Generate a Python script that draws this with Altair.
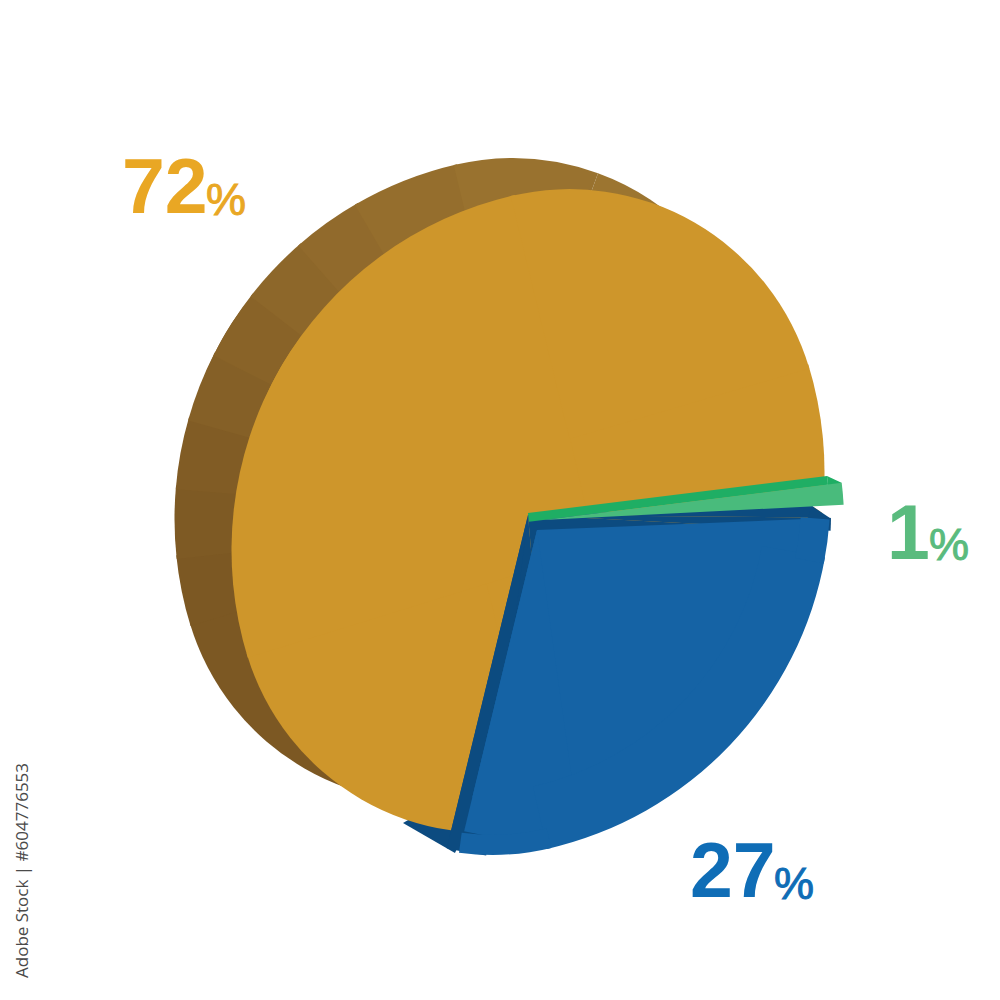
import altair as alt
import pandas as pd

# ---- values -----------------------------------------------------------
labels = ["72", "27", "1"]
label_colors = ["#E9A724", "#0F6DB6", "#5ABB7E"]
# oval outline of the tilted disc, four tangent circular pieces
junctions = [73.2, 166.8, 253.2, 346.8]
back_left_steps = [253.2, 264, 275, 286, 297, 308, 319, 330, 346.8]
back_left_colors = ["#7C5823", "#7E5A24", "#815C25", "#856027", "#896328", "#8D672A", "#916A2C", "#956E2D"]

OFF = 8
R_BIG, R_SMALL, R_MIN = 364, 250, 286
CR = (-67.5, -39.0)
CL = (67.5, 39.0)
CT = (41.5, -71.9)
CB = (-41.5, 71.9)
theta_scale = alt.Scale(domain=[0, 360], range=[0, 6.283185307])


def arc(a, b, cx, cy, r, color, inner=0):
    kw = {"radius2": inner} if inner else {}
    return alt.Chart(pd.DataFrame({"a": [a], "b": [b]})).mark_arc(color=color, radius=r, **kw).encode(
        theta=alt.Theta("a:Q", scale=theta_scale),
        theta2=alt.Theta2("b:Q"),
        x=alt.value(cx - OFF),
        y=alt.value(cy - OFF),
    )


def oval(ox, oy, color):
    j = junctions
    e = 0.4
    return [
        arc(0, 360, ox, oy, R_MIN, color),
        arc(j[0] - e, j[1] + e, ox + CR[0], oy + CR[1], R_BIG, color),
        arc(j[1] - e, j[2] + e, ox + CB[0], oy + CB[1], R_SMALL, color),
        arc(j[2] - e, j[3] + e, ox + CL[0], oy + CL[1], R_BIG, color),
        arc(j[3] - e - 360, j[0] + e, ox + CT[0], oy + CT[1], R_SMALL, color),
    ]


layers = []

# rear rim with its stepped shading
BX, BY = 471, 480
layers.append(arc(0, 360, BX, BY, R_MIN, "#7C5823"))
layers.append(arc(junctions[1], junctions[2], BX + CB[0], BY + CB[1], R_SMALL, "#7C5823"))
for i, c in enumerate(back_left_colors):
    layers.append(arc(back_left_steps[i] - 0.3, back_left_steps[i + 1] + 0.3, BX + CL[0], BY + CL[1], R_BIG, c))
layers.append(arc(-13.6, 20, BX + CT[0], BY + CT[1], R_SMALL, "#99722F"))
layers.append(arc(20, 73.6, BX + CT[0], BY + CT[1], R_SMALL, "#9C7530"))
layers.append(arc(73, 110, BX + CR[0], BY + CR[1], R_BIG, "#9C7530"))

# rear corner of the blue slice, showing below the big slice
DARK = "#0C4B80"
layers.append(arc(60, 120, 403, 823, 60, DARK))

# big slice
FX, FY = 528, 511
layers += oval(FX, FY, "#CE962B")

# dark inner walls of the blue slice
AX, AY = 528, 515
layers.append(arc(88, 90.5, AX, AY, 286, DARK))
layers.append(arc(90.5, 93, AX, AY, 303, DARK))
layers.append(arc(93, 175, AX, AY, 290, DARK))
layers.append(arc(175, 193.7, AX, AY, 331, DARK))
layers.append(arc(187, 193.7, AX, AY, 343, DARK))

# notch to the right of the top wall
layers.append(arc(70, 123.7, 812, 506, 22, "#FFFFFF"))
layers.append(arc(123.7, 200, 812, 506, 22, DARK))

# blue face
BLX, BLY = 534, 533
BLUE = "#1563A5"
layers.append(arc(87.65, 193.6, 537, 530, 275, BLUE))
layers.append(arc(172, 193.6, 537, 530, 310, BLUE))
layers.append(arc(100, junctions[1] + 0.4, BLX + CR[0], BLY + CR[1], R_BIG, BLUE, inner=300))
layers.append(arc(94, 101, BLX + CR[0], BLY + CR[1], R_BIG, BLUE, inner=335))
layers.append(arc(junctions[1] - 0.4, 187.7, BLX + CB[0], BLY + CB[1], R_SMALL, BLUE, inner=230))

# green sliver
GREEN_TOP = "#1FAE64"
layers.append(
    alt.Chart(pd.DataFrame({"k": [0]})).mark_rule(color=GREEN_TOP, strokeWidth=8.8, strokeCap="butt").encode(
        x=alt.value(528.5 - OFF), y=alt.value(517.4 - OFF), x2=alt.value(827.5 - OFF), y2=alt.value(480.4 - OFF)
    )
)
layers.append(arc(115, 175, 827, 476, 16, GREEN_TOP))
layers.append(arc(82.9, 87.1, 543, 520, 301, "#49BB7C"))


def label(txt, x, y, size, color, bold):
    kw = {"fontWeight": "bold"} if bold else {"stroke": color, "strokeWidth": 1}
    return alt.Chart(pd.DataFrame({"t": [txt]})).mark_text(
        font="Liberation Sans", fontSize=size, color=color, align="left", baseline="alphabetic", **kw
    ).encode(text="t:N", x=alt.value(x - OFF), y=alt.value(y - OFF))


layers += [label(labels[0], 122, 213, 77, label_colors[0], True), label("%", 206, 215, 45, label_colors[0], False)]
layers += [label(labels[1], 690, 897, 77, label_colors[1], True), label("%", 774, 899, 45, label_colors[1], False)]
layers += [label(labels[2], 887, 559, 77, label_colors[2], True), label("%", 929, 560, 45, label_colors[2], False)]

layers.append(
    alt.Chart(pd.DataFrame({"t": ["Adobe Stock | #604776553"]})).mark_text(
        font="Open Sans", fontSize=17, color="#4A4A4A", angle=270, align="left", baseline="middle"
    ).encode(text="t:N", x=alt.value(23 - OFF), y=alt.value(978 - OFF))
)

chart = alt.layer(*layers).properties(width=984, height=984, padding=0).configure_view(stroke=None)
chart.save("out.html", embed_options={"renderer": "svg", "actions": False})
